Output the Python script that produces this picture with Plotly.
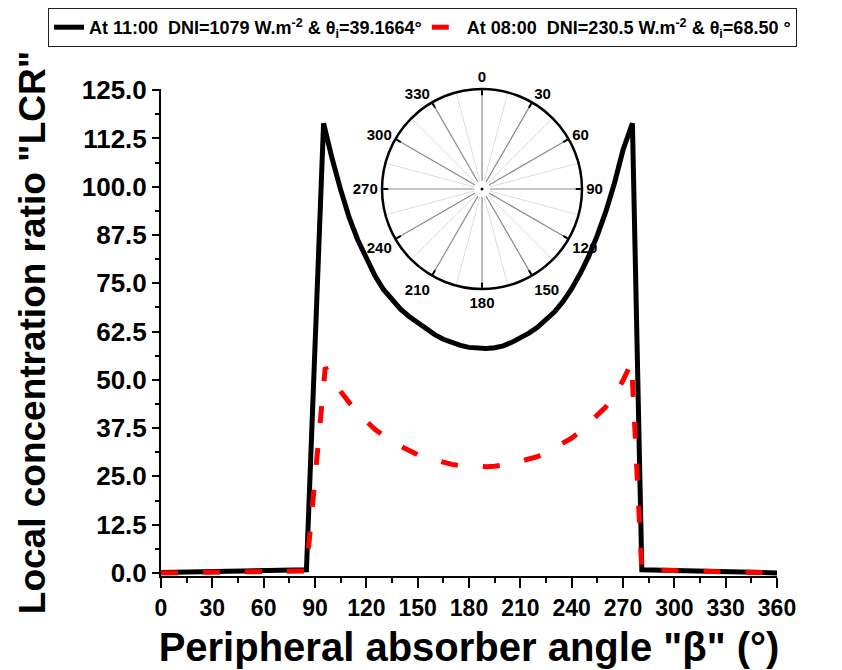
import plotly.graph_objects as go

# ---- data ----
beta_11 = [0, 30, 60, 85, 95, 97.5, 100, 105, 110, 115, 120, 125, 130, 135, 140, 145,
           150, 155, 160, 165, 170, 175, 180, 185, 190, 195, 200, 205, 210, 215, 220,
           225, 230, 235, 240, 245, 250, 255, 260, 265, 270, 275.5, 281, 300, 330, 360]
lcr_11 = [0.1, 0.3, 0.6, 0.8, 116.4, 111.5, 107.3, 99.2, 92.0, 86.2, 81.3, 77.0, 73.4,
          70.6, 68.3, 66.4, 64.8, 63.1, 61.7, 60.5, 59.6, 58.9, 58.4, 58.1, 58.1, 58.3,
          58.8, 59.7, 60.8, 62.1, 63.6, 65.5, 67.6, 70.3, 73.6, 77.5, 82.0, 87.4, 93.6,
          100.9, 109.5, 116.4, 0.8, 0.6, 0.3, 0.0]

beta_08 = [0, 30, 60, 85, 96, 100, 105, 110, 115, 120, 125, 130, 135, 140, 145, 150,
           155, 160, 165, 170, 175, 180, 185, 190, 195, 200, 205, 210, 215, 220, 225,
           230, 235, 240, 245, 250, 255, 260, 265, 270, 275, 281, 300, 330, 360]
lcr_08 = [0.0, 0.2, 0.4, 0.5, 53.2, 50.2, 47.0, 44.1, 41.5, 39.3, 37.2, 35.4, 34.0,
          32.8, 31.6, 30.6, 29.8, 29.2, 28.6, 28.1, 27.8, 27.6, 27.5, 27.5, 27.6, 27.9,
          28.3, 28.9, 29.4, 30.1, 31.1, 32.3, 33.5, 34.9, 36.6, 38.6, 40.6, 43.0, 46.0,
          49.8, 54.5, 0.8, 0.6, 0.3, 0.0]

name_11 = "At 11:00\u00a0\u00a0DNI=1079 W.m<sup>-2</sup> & θ<sub>i</sub>=39.1664°"
name_08 = "At 08:00\u00a0\u00a0DNI=230.5 W.m<sup>-2</sup> & θ<sub>i</sub>=68.50 °"

x_title = 'Peripheral absorber angle "β" (°)'
y_title = 'Local concentration ratio "LCR"'

# inset angular diagram
inset_major = list(range(0, 360, 30))
inset_minor = list(range(15, 360, 30))
inset_labels = [str(a) for a in inset_major]

ARIAL = "Arial, Liberation Sans"


def spokes(angles, r0=0.08, r1=1.0):
    r, t = [], []
    for a in angles:
        r += [r0, r1, None]
        t += [a, a, None]
    return r, t


fig = go.Figure()

r_min, t_min = spokes(inset_minor)
fig.add_trace(go.Scatterpolar(r=r_min, theta=t_min, mode="lines",
                              line=dict(color="#dcdcdc", width=1),
                              showlegend=False, hoverinfo="skip"))
r_maj, t_maj = spokes(inset_major)
fig.add_trace(go.Scatterpolar(r=r_maj, theta=t_maj, mode="lines",
                              line=dict(color="#8a8a8a", width=1.2),
                              showlegend=False, hoverinfo="skip"))
fig.add_trace(go.Scatterpolar(r=[0], theta=[0], mode="markers",
                              marker=dict(color="black", size=3),
                              showlegend=False, hoverinfo="skip"))

fig.add_trace(go.Scatter(x=beta_11, y=lcr_11, mode="lines", name=name_11,
                         line=dict(color="black", width=5)))
fig.add_trace(go.Scatter(x=beta_08, y=lcr_08, mode="lines", name=name_08,
                         line=dict(color="#ff0000", width=5, dash="17px,25px")))

# The page body adds an 8 px offset; target plot area in window pixels:
# x 161..777, y 89..576
OFF = 8
W, H = 842, 670
px0, px1, py0, py1 = 161, 777, 89, 576
L, T = px0 - OFF, py0 - OFF
pw, ph = px1 - px0, py1 - py0
R, B = W - L - pw, H - T - ph

cx, cy, rad = 482, 189, 100          # inset centre / radius (window px)
dom_x = [(cx - rad - px0) / pw, (cx + rad - px0) / pw]
dom_y = [(py1 - cy - rad) / ph, (py1 - cy + rad) / ph]

leg_left, leg_top = 48, 8            # legend box (window px)
leg_x = (leg_left - px0) / pw
leg_y = (py1 - leg_top) / ph

fig.update_layout(
    width=W, height=H,
    margin=dict(l=L, r=R, t=T, b=B, autoexpand=False),
    paper_bgcolor="white", plot_bgcolor="white",
    xaxis=dict(
        range=[0, 360], tickmode="linear", tick0=0, dtick=30,
        ticks="outside", ticklen=10, tickwidth=1.5, tickcolor="black",
        showline=True, linecolor="black", linewidth=2,
        showgrid=False, zeroline=False,
        minor=dict(dtick=15, ticks="outside", ticklen=5, tickwidth=1.5,
                   tickcolor="black", showgrid=False),
        tickfont=dict(family=ARIAL, size=23, color="black", weight="bold"),
        title=dict(text=x_title, standoff=13,
                   font=dict(family=ARIAL, size=40, color="black", weight="bold")),
    ),
    yaxis=dict(
        range=[-0.8, 125.3], tickmode="linear", tick0=0, dtick=12.5,
        tickformat=".1f",
        ticks="outside", ticklen=7, tickwidth=1.5, tickcolor="black",
        showline=True, linecolor="black", linewidth=2,
        showgrid=False, zeroline=False,
        minor=dict(dtick=6.25, ticks="outside", ticklen=4, tickwidth=1.5,
                   tickcolor="black", showgrid=False),
        tickfont=dict(family=ARIAL, size=26, color="black", weight="bold"),
        title=dict(text=y_title, standoff=25,
                   font=dict(family=ARIAL, size=37, color="black", weight="bold")),
    ),
    polar=dict(
        domain=dict(x=dom_x, y=dom_y),
        bgcolor="white", hole=0,
        radialaxis=dict(visible=False, range=[0, 1]),
        angularaxis=dict(
            rotation=90, direction="clockwise",
            tickmode="array", tickvals=inset_major, ticktext=inset_labels,
            showgrid=False, showline=True, linecolor="black", linewidth=2.5,
            ticks="inside", ticklen=5, tickwidth=1.5, tickcolor="black",
            tickfont=dict(family=ARIAL, size=15, color="black", weight="bold"),
        ),
    ),
    legend=dict(
        orientation="h", xref="paper", yref="paper",
        x=leg_x, xanchor="left", y=leg_y, yanchor="top",
        bordercolor="#222", borderwidth=1, bgcolor="white",
        font=dict(family=ARIAL, size=18, color="black", weight="bold"),
    ),
    showlegend=True,
)

fig.write_html("out.html")
